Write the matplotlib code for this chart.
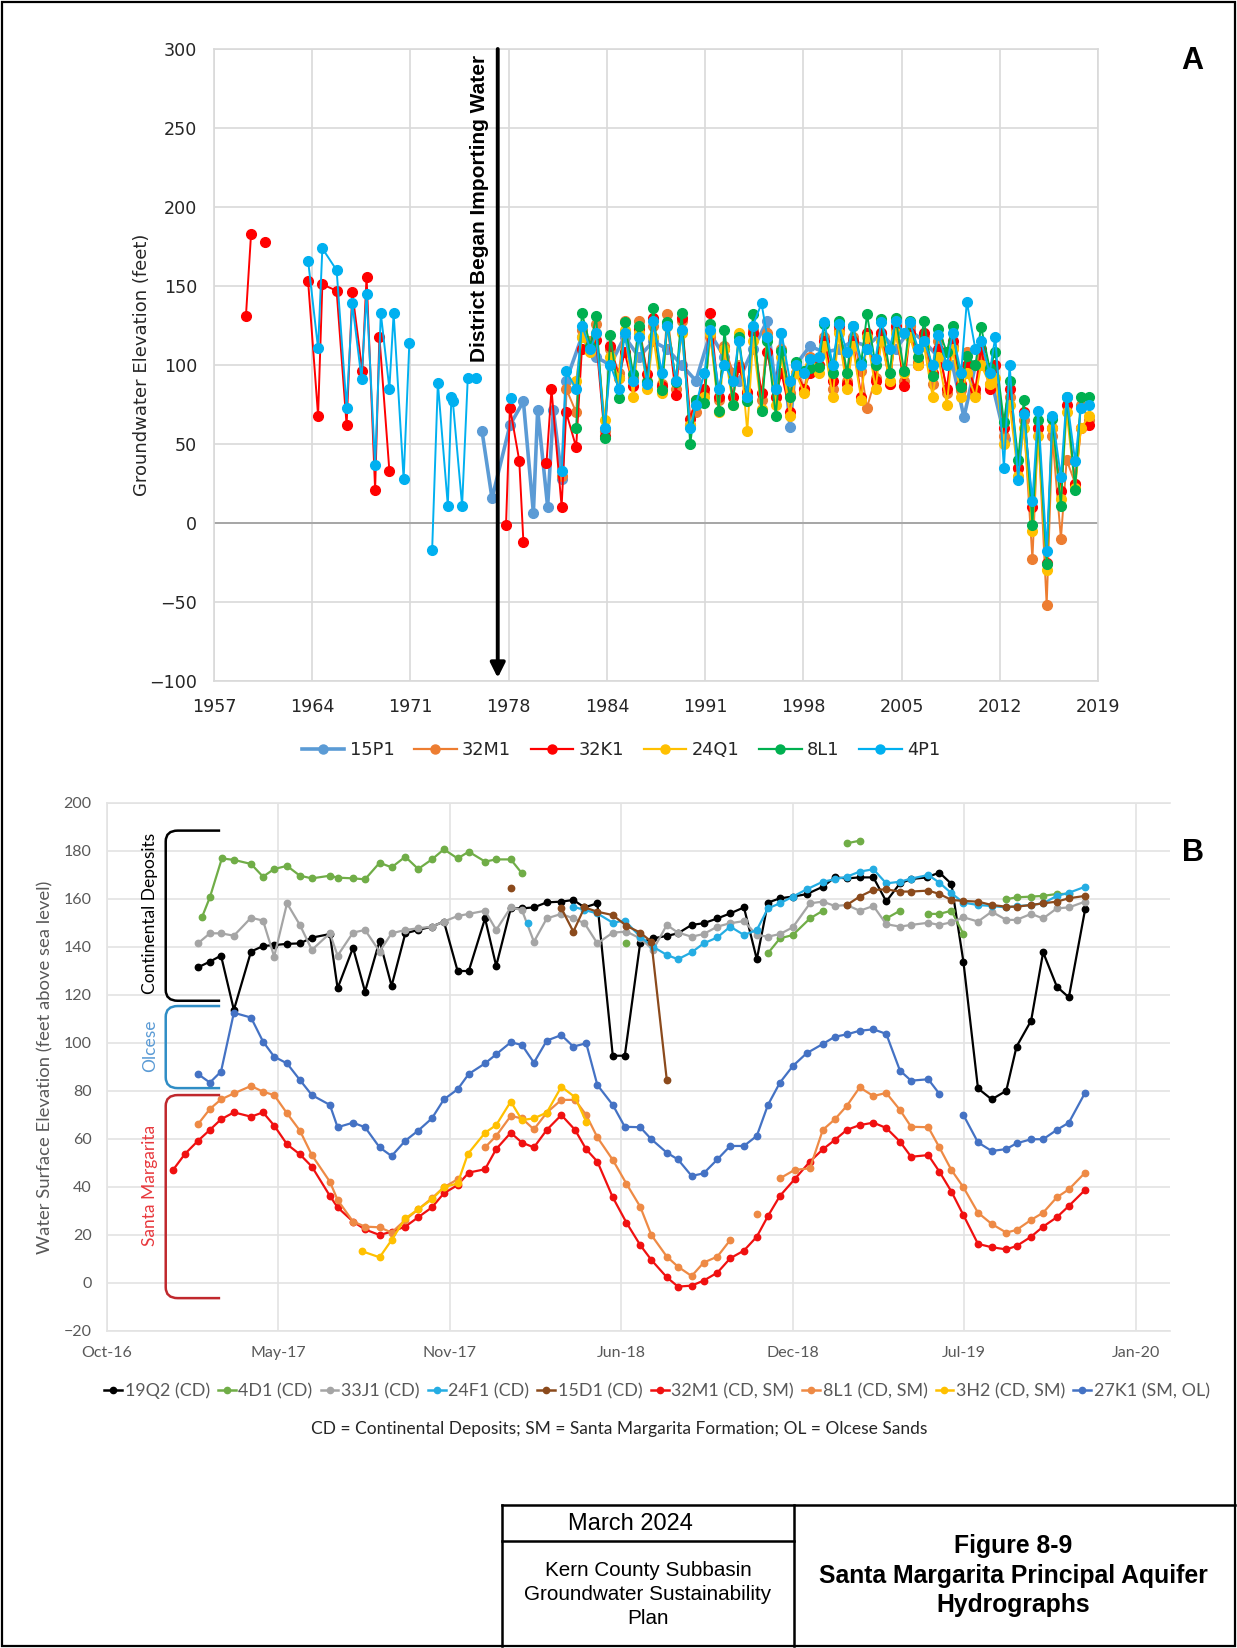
import numpy as np
import matplotlib
matplotlib.use('Agg')
import matplotlib.pyplot as plt
from matplotlib.lines import Line2D
from matplotlib.path import Path
from matplotlib.patches import PathPatch, Rectangle
import pandas as pd

nan = np.nan
CAL = 'Lato'
BLOCKFONT = 'Liberation Sans'

# ---------------- Panel A data (decimal years, feet) ----------------
A_XTICK_LABELS = ['1957', '1964', '1971', '1978', '1984', '1991', '1998', '2005', '2012', '2019']
A_YTICKS = [-100, -50, 0, 50, 100, 150, 200, 250, 300]
A_NAMES = ['15P1', '32M1', '32K1', '24Q1', '8L1', '4P1']
A_COLORS = ['#5B9BD5', '#ED7D31', '#FF0000', '#FFC000', '#00B050', '#00B0F0']
IMPORT_YEAR = 1976.9

semi_years = [1982.4, 1982.8, 1983.4, 1983.8, 1984.4, 1984.8, 1985.4, 1985.8, 1986.4, 1986.8,
              1987.4, 1987.8, 1988.4, 1988.8, 1989.4, 1989.8, 1990.4, 1990.8, 1991.4, 1991.8,
              1992.4, 1992.8, 1993.4, 1993.8, 1994.4, 1994.8, 1995.4, 1995.8, 1996.4, 1996.8,
              1997.4, 1997.8, 1998.4, 1998.8, 1999.4, 1999.8, 2000.4, 2000.8, 2001.4, 2001.8,
              2002.4, 2002.8, 2003.4, 2003.8, 2004.4, 2004.8, 2005.4, 2005.8, 2006.4, 2006.8,
              2007.4, 2007.8, 2008.4, 2008.8, 2009.4, 2009.8, 2010.4, 2010.8, 2011.4, 2011.8,
              2012.4, 2012.8, 2013.4, 2013.8, 2014.4, 2014.8, 2015.4, 2015.8, 2016.4, 2016.8,
              2017.4, 2017.8, 2018.4]

p15_years = [1975.8, 1976.5, 1977.76, 1978.7, 1979.4, 1979.7, 1980.4, 1980.8, 1981.4, 1981.7,
             1982.8, 1983.8, 1984.8, 1985.8, 1986.8, 1987.8, 1988.8, 1989.8, 1990.8, 1991.8,
             1992.8, 1993.8, 1994.8, 1995.8, 1996.4, 1996.8, 1997.4, 1997.8, 1998.8, 1999.8,
             2000.8, 2001.8, 2002.8, 2003.8, 2004.8, 2005.8, 2006.8, 2007.8, 2008.8, 2009.6,
             2010.4, 2011.4, 2012.5]
p15_vals = [58, 15.6, 62, 77, 6.5, 71.5, 10.3, 71.5, 28, 90,
            118, 105, 100, 118, 105, 115, 110, 100, 90, 120,
            105, 90, 110, 128, 85, 120, 61, 100, 112, 108,
            110, 115, 112, 120, 110, 122, 115, 105, 100, 67,
            100, 95, 53]

m32_years = [1981.4, 1981.7] + semi_years
m32_vals = [30, 85,
            70, 122, 115, 126, 58, 110, 95, 128, 92, 128,
            90, 125, 88, 132, 85, 128, 62, 70, 82, 118,
            78, 112, 95, 100, 82, 122, 78, 120, 80, 110,
            82, 100, 85, 105, 100, 118, 85, 122, 90, 118,
            96, 73, 92, 120, 88, 122, 90, 125, 102, 118,
            88, 115, 82, 112, 84, 108, 82, 105, 88, 100,
            55, 80, 35, 65, -23, 60, -52, 55, -10, 40,
            25, 75, 65]

k32_years = [1959.24, 1959.6, nan, 1960.6, nan, 1963.6, 1964.3, 1964.6, 1965.6, 1966.3, 1966.7,
             1967.4, 1967.7, 1968.3, 1968.6, 1969.3, nan, 1977.48, 1977.76, 1978.41, 1978.7, nan,
             1980.32, 1980.67, 1981.38, 1981.7] + semi_years
k32_vals = [131, 183, nan, 178, nan, 153, 68, 151, 147, 62, 146,
            96, 156, 21, 118, 33, nan, -1.3, 73, 39.5, -12, nan,
            38, 84.6, 10.3, 70,
            48, 110, 112, 116, 55, 112, 92, 108, 87, 123,
            94, 130, 87, 126, 81, 130, 66, 78, 85, 133,
            80, 110, 80, 99, 83, 120, 82, 108, 80, 95,
            70, 95, 85, 95, 100, 115, 90, 125, 88, 115,
            80, 120, 90, 120, 88, 125, 87, 120, 100, 120,
            95, 110, 85, 115, 88, 100, 85, 110, 85, 100,
            60, 85, 35, 70, 10, 60, -25, 60, 20, 75,
            25, 60, 62]

q24_years = semi_years
q24_vals = [90, 118, 108, 120, 65, 105, 92, 122, 80, 120,
            85, 118, 82, 125, 90, 120, 62, 75, 80, 120,
            70, 110, 75, 120, 58, 115, 72, 118, 75, 105,
            68, 95, 82, 100, 95, 112, 80, 120, 85, 112,
            78, 118, 85, 115, 90, 120, 95, 118, 100, 112,
            80, 105, 75, 110, 80, 95, 80, 100, 88, 92,
            50, 75, 30, 60, -5, 55, -30, 60, 15, 70,
            22, 60, 68]

l8_years = semi_years
l8_vals = [60, 133, 112, 131, 54, 119, 79, 127, 94, 125,
           89, 136, 84, 127, 89, 133, 50, 78, 76, 126,
           71, 122, 75, 118, 77, 132, 71, 115, 68, 109,
           80, 102, 96, 98, 99, 126, 95, 128, 95, 125,
           102, 132, 100, 129, 95, 130, 96, 128, 105, 128,
           93, 123, 108, 125, 86, 106, 100, 124, 98, 108,
           64, 90, 40, 78, -1, 65, -26, 66, 11, 80,
           21, 80, 80]

p4_years = [1963.6, 1964.3, 1964.6, 1965.6, 1966.3, 1966.7, 1967.35, 1967.7, 1968.3, 1968.7,
            1969.3, 1969.6, 1970.3, 1970.7, nan, 1972.3, 1972.7, 1973.4, 1973.65, 1973.75,
            1974.4, 1974.8, 1975.4, nan, 1977.8, nan, 1981.4, 1981.7] + semi_years
p4_vals = [166, 110.5, 173.8, 160, 73, 139, 91, 145, 36.7, 132.7,
           85, 132.7, 27.8, 113.7, nan, -17, 88.8, 11, 80, 77,
           11, 92, 92, nan, 79, nan, 33, 96,
           85, 125, 110, 120, 60, 100, 85, 120, 90, 118,
           88, 128, 95, 125, 90, 122, 60, 75, 95, 122,
           85, 100, 90, 115, 80, 125, 139, 118, 85, 120,
           90, 100, 95, 104, 105, 127, 100, 126, 108, 125,
           100, 110, 104, 127, 110, 128, 120, 127, 110, 115,
           100, 119, 100, 120, 95, 140, 110, 115, 95, 118,
           35, 100, 27, 69, 14, 71, -18, 68, 29, 80,
           39, 73, 75]

A_SERIES = [(p15_years, p15_vals), (m32_years, m32_vals), (k32_years, k32_vals),
            (q24_years, q24_vals), (l8_years, l8_vals), (p4_years, p4_vals)]

# ---------------- Panel B data (days after 2016-10-15, ft above sea level) ----------------
B_START = '2016-10-15'
B_TICK_DAYS = [0, 200, 400, 600, 800, 1000, 1200]
B_YTICKS = list(range(-20, 201, 20))
B_NAMES = ['19Q2 (CD)', '4D1 (CD)', '33J1 (CD)', '24F1 (CD)', '15D1 (CD)',
           '32M1 (CD, SM)', '8L1 (CD, SM)', '3H2 (CD, SM)', '27K1 (SM, OL)']
B_COLORS = ['#000000', '#70AD47', '#A5A5A5', '#25ADE3', '#8B4A1C',
            '#F01010', '#EE8A45', '#FFC000', '#4472C4']

q19_d = [106, 120, 133, 148, 168, 182, 195, 210, 225, 239, 260, 269, 287, 301, 318, 332, 348, 363, 379, 393,
         409, 422, 441, 454, 471, 484, 498, 513, 530, 544, 557, 572, 590, 604, 622, 637, 653, 666, 682, 696,
         712, 727, 743, 758, 771, 785, 800, 816, 835, 849, 863, 878, 894, 909, 925, 938, 956, 971, 985, 999,
         1016, 1032, 1049, 1061, 1078, 1092, 1108, 1122, 1141]
q19_v = [131.5, 133.9, 136.4, 113.8, 138.1, 140.4, 140.8, 141.3, 141.5, 143.9, 145.4, 122.8, 139.7, 121.4, 142.6, 123.8, 145.7, 147.1, 148.5, 150.6,
         130.0, 130.0, 151.9, 132.1, 156.1, 156.1, 156.5, 158.6, 158.9, 159.6, 156.5, 158.2, 94.7, 94.7, 141.8, 143.6, 144.6, 145.7, 149.2, 149.9,
         151.9, 154.0, 156.5, 134.9, 158.5, 160.3, 161.0, 162.0, 165.1, 169.0, 168.6, 169.0, 169.0, 159.0, 166.5, 168.3, 169.0, 171.0, 166.3, 133.9,
         81.1, 76.5, 80.1, 98.5, 109.3, 137.8, 123.5, 119.0, 155.7]

d4_d = [111, 120, 134, 148, 168, 182, 195, 210, 225, 239, 260, 269, 287, 301, 318, 332, 348, 363, 379, 393,
        409, 422, 441, 454, 471, 484, nan, 606, nan, 771, 785, 800, 820, 835, nan, 863, 878, nan, 909, 925,
        nan, 958, 971, 985, 999, nan, 1049, 1061, 1078, 1092, 1108, 1122]
d4_v = [152.6, 160.7, 176.9, 176.3, 174.6, 169.3, 172.5, 173.8, 169.7, 168.6, 169.7, 168.9, 168.6, 168.2, 175.1, 173.2, 177.6, 172.5, 176.5, 180.7,
        176.9, 179.7, 175.6, 176.5, 176.5, 170.7, nan, 141.8, nan, 137.4, 143.6, 145.0, 151.9, 155.1, nan, 183.2, 184.3, nan, 151.9, 155.1,
        nan, 153.8, 153.8, 155.1, 145.4, nan, 159.9, 160.7, 161.0, 161.3, 162.1, 162.1]

j33_d = [106, 120, 133, 148, 168, 182, 195, 210, 225, 239, 260, 269, 287, 301, 318, 332, 348, 363, 379, 393,
         409, 422, 441, 454, 471, 484, 498, 513, 530, 544, 557, 572, 590, 606, 622, 637, 653, 666, 682, 696,
         712, 727, 743, 758, 771, 785, 800, 820, 835, 849, 863, 878, 894, 909, 925, 938, 958, 971, 985, 999,
         1016, 1032, 1049, 1061, 1078, 1092, 1108, 1122, 1141]
j33_v = [141.5, 145.7, 145.7, 144.7, 152.2, 151.0, 136.0, 158.2, 149.2, 138.8, 145.7, 136.4, 146.0, 147.1, 138.1, 145.7, 147.1, 147.8, 148.5, 150.6,
         152.9, 153.8, 155.1, 147.1, 156.5, 155.4, 142.2, 151.9, 153.8, 151.9, 149.9, 141.5, 146.0, 146.4, 143.6, 138.8, 149.2, 146.0, 144.3, 145.4,
         148.5, 149.9, 150.8, 145.0, 144.3, 145.4, 148.2, 158.2, 158.9, 157.1, 157.5, 155.1, 157.1, 149.5, 148.5, 149.2, 150.1, 149.2, 150.3, 152.4,
         150.6, 154.7, 151.3, 151.3, 153.8, 151.9, 156.1, 156.5, 158.9]

f24_d = [491, nan, 544, 557, 572, 590, 604, 622, 637, 653, 666, 682, 696, 712, 727, 743, 758, 771, 785, 800,
         816, 835, 849, 863, 878, 894, 909, 925, 938, 958, 971, 985, 999, 1016, 1032, 1049, 1061, 1078, 1092, 1108,
         1122, 1141]
f24_v = [149.9, nan, 156.8, 155.4, 154.0, 150.1, 151.0, 144.3, 140.1, 136.7, 134.9, 137.8, 141.5, 144.0, 148.5, 145.0, 147.1, 156.1, 158.2, 161.0,
         164.0, 167.2, 168.2, 169.3, 171.4, 172.4, 166.5, 167.2, 168.5, 170.0, 166.8, 162.4, 158.5, 157.5, 157.1, 156.5, 157.0, 157.5, 158.2, 161.3,
         162.6, 165.1]

d15_d = [471, nan, 530, 544, 557, 572, 590, 606, 622, 635, 653, nan, 863, 878, 894, 909, 925, 938, 958, 971,
         985, 999, 1016, 1032, 1049, 1061, 1078, 1092, 1108, 1122, 1141]
d15_v = [164.4, nan, 156.1, 146.4, 156.5, 154.7, 153.3, 148.8, 146.0, 142.2, 84.6, nan, 157.5, 161.0, 163.8, 164.0, 163.1, 163.1, 163.5, 162.1,
         159.6, 159.2, 158.9, 157.5, 156.8, 156.8, 157.5, 158.2, 158.9, 160.3, 161.3]

m32b_d = [77, 91, 106, 120, 133, 148, 168, 182, 195, 210, 225, 239, 260, 269, 287, 301, 318, 332, 348, 363,
          379, 393, 409, 422, 441, 454, 471, 484, 498, 513, 530, 546, 559, 572, 590, 606, 622, 635, 653, 666,
          682, 696, 712, 727, 743, 758, 771, 785, 802, 820, 835, 849, 863, 878, 894, 909, 925, 938, 958, 971,
          985, 999, 1016, 1032, 1049, 1061, 1078, 1092, 1108, 1122, 1141]
m32b_v = [47.1, 53.8, 59.2, 63.8, 68.2, 71.1, 69.3, 71.1, 65.6, 57.8, 53.6, 48.5, 36.3, 31.5, 25.6, 22.3, 20.0, 21.4, 23.5, 27.4,
          31.5, 37.4, 40.8, 46.0, 47.4, 55.8, 62.6, 58.5, 56.5, 63.8, 70.0, 63.8, 55.7, 50.6, 35.7, 25.1, 15.8, 9.6, 2.4, -1.5,
          -1.1, 1.0, 4.3, 10.3, 13.5, 19.3, 27.9, 36.3, 43.2, 50.6, 55.7, 59.6, 63.8, 65.8, 66.8, 64.6, 58.9, 52.6, 53.3, 46.4,
          38.1, 28.3, 16.3, 14.9, 14.0, 15.4, 19.3, 23.5, 27.4, 32.1, 38.8]

l8b_d = [106, 120, 133, 148, 168, 182, 195, 210, 225, 239, 260, 269, 287, 301, 318, 332, 348, 363, 379, 393,
         409, nan, 441, 454, 471, 484, 498, 513, 530, 546, 559, 572, 590, 606, 622, 635, 653, 666, 682, 696,
         712, 727, nan, 758, nan, 785, 802, 820, 835, 849, 863, 878, 894, 909, 925, 938, 958, 971, 985, 999,
         1016, 1032, 1049, 1061, 1078, 1092, 1108, 1122, 1141]
l8b_v = [66.1, 72.5, 76.5, 79.0, 82.1, 79.7, 78.3, 70.7, 63.5, 53.3, 42.2, 34.6, 25.6, 23.5, 23.2, 21.0, 26.3, 30.7, 35.3, 39.9,
         43.2, nan, 56.5, 61.3, 69.6, 68.6, 64.0, 71.0, 76.3, 76.3, 70.0, 60.7, 51.3, 41.3, 31.8, 20.0, 11.0, 6.8, 2.9, 8.5,
         11.0, 17.9, nan, 28.8, nan, 43.6, 47.1, 47.8, 63.8, 68.2, 73.8, 81.5, 77.9, 79.2, 72.1, 65.1, 64.9, 56.5, 47.1, 39.9,
         29.3, 24.6, 21.0, 22.1, 26.3, 29.3, 35.7, 39.0, 46.0]

h3_d = [297, 318, 332, 348, 363, 379, 393, 409, 421, 441, 454, 471, 484, 498, 513, 530, 546, 559]
h3_v = [13.3, 10.7, 17.9, 26.9, 30.7, 34.9, 39.9, 41.5, 53.8, 62.6, 65.8, 75.6, 67.9, 68.6, 71.0, 81.8, 77.4, 67.2]

k27_d = [106, 120, 133, 148, 168, 182, 195, 210, 225, 239, 260, 269, 287, 301, 318, 332, 348, 363, 379, 393,
         409, 422, 441, 454, 471, 484, 498, 513, 530, 544, 559, 572, 590, 604, 622, 635, 653, 666, 682, 696,
         712, 727, 743, 758, 771, 785, 800, 816, 835, 849, 863, 878, 894, 909, 925, 938, 958, 971, nan, 999,
         1016, 1032, 1049, 1061, 1078, 1092, 1108, 1122, 1141]
k27_v = [87.1, 83.5, 88.1, 112.6, 110.6, 100.6, 94.3, 91.5, 84.6, 78.3, 74.2, 64.9, 66.8, 64.9, 56.5, 52.9, 59.3, 63.5, 68.6, 76.5,
         80.7, 87.1, 91.5, 95.3, 100.3, 99.2, 91.8, 101.0, 103.3, 98.5, 99.9, 82.5, 74.2, 65.1, 64.9, 59.9, 54.3, 51.5, 44.6, 45.7,
         51.5, 57.1, 57.1, 61.3, 74.2, 83.5, 90.4, 95.7, 99.6, 102.6, 103.6, 105.1, 105.7, 103.8, 88.5, 84.3, 84.9, 78.8, nan, 70.0,
         58.6, 55.0, 55.8, 58.2, 59.9, 59.9, 63.8, 66.8, 79.3]

B_SERIES = [(q19_d, q19_v), (d4_d, d4_v), (j33_d, j33_v), (f24_d, f24_v), (d15_d, d15_v),
            (m32b_d, m32b_v), (l8b_d, l8b_v), (h3_d, h3_v), (k27_d, k27_v)]

TITLE_LEFT = ['Kern County Subbasin', 'Groundwater Sustainability', 'Plan']
TITLE_RIGHT = ['Figure 8-9', 'Santa Margarita Principal Aquifer', 'Hydrographs']
DATE_TEXT = 'March 2024'

# ---------------- figure ----------------
W, H = 1237, 1648
fig = plt.figure(figsize=(W / 100, H / 100), dpi=100)
fig.patch.set_facecolor('white')


def fx(px):
    return px / W


def fy(py):
    return 1 - py / H


GRID = '#D9D9D9'

# ---------- Panel A ----------
axA = fig.add_axes([fx(214), fy(681), fx(1098) - fx(214), fy(49) - fy(681)])
axA.set_xlim(1957, 2019)
axA.set_ylim(-100, 300)
axA.set_xticks(np.linspace(1957, 2019, len(A_XTICK_LABELS)))
axA.set_xticklabels(A_XTICK_LABELS)
axA.set_yticks(A_YTICKS)
axA.grid(True, color=GRID, lw=1.2)
axA.set_axisbelow(True)
for s in axA.spines.values():
    s.set_color(GRID)
    s.set_linewidth(1.2)
axA.axhline(0, color='#A6A6A6', lw=1.4, zorder=1.5)
axA.tick_params(length=0, labelsize=12.6, labelcolor='#262626', pad=12)
axA.set_ylabel('Groundwater Elevation (feet)', fontsize=13, color='#262626')
axA.yaxis.set_label_coords((151 - 214) / 884, 0.5)

for (xs, ys), name, col in zip(A_SERIES, A_NAMES, A_COLORS):
    lw = 2.6 if name == '15P1' else 1.4
    axA.plot(np.array(xs, float), np.array(ys, float), '-', color=col, lw=lw,
             marker='o', ms=7, mec=col, mfc=col, zorder=3)

axA.annotate('', xy=(IMPORT_YEAR, -98), xytext=(IMPORT_YEAR, 300),
             arrowprops=dict(arrowstyle='-|>', lw=2.8, color='black', mutation_scale=22,
                             shrinkA=0, shrinkB=0), annotation_clip=False, zorder=5)
axA.annotate('District Began Importing Water', xy=(IMPORT_YEAR, 296), xytext=(-6, 0),
             textcoords='offset points', rotation=90, ha='right', va='top',
             fontsize=15, fontweight='bold', family='Liberation Sans', color='black', zorder=6)

handlesA = [Line2D([0], [0], color=c, lw=(2.6 if n == '15P1' else 1.6), marker='o', ms=6.5, mec=c, mfc=c)
            for n, c in zip(A_NAMES, A_COLORS)]
fig.legend(handlesA, A_NAMES, loc='center', bbox_to_anchor=(fx(621), fy(750)), ncol=6,
           frameon=False, fontsize=12.8, handlelength=2.4, handletextpad=0.3, columnspacing=1.1,
           labelcolor='#262626')
fig.text(fx(1192), fy(61), 'A', fontsize=22, fontweight='bold', family='Liberation Sans',
         ha='center', va='center')

# ---------- Panel B ----------
axB = fig.add_axes([fx(107), fy(1331), fx(1170) - fx(107), fy(803) - fy(1331)])
axB.set_xlim(0, 1240)
axB.set_ylim(-20, 200)
start = pd.Timestamp(B_START)
axB.set_xticks(B_TICK_DAYS)
axB.set_xticklabels([(start + pd.Timedelta(days=d)).strftime('%b-%y') for d in B_TICK_DAYS])
axB.set_yticks(B_YTICKS)
axB.grid(True, color='#E3E3E3', lw=1.2)
axB.set_axisbelow(True)
for k, s in axB.spines.items():
    s.set_color('#E3E3E3')
    s.set_linewidth(1.2)
axB.spines['right'].set_visible(False)
axB.tick_params(length=0, labelsize=11.5, labelcolor='#595959', pad=11)
for lab in axB.get_xticklabels() + axB.get_yticklabels():
    lab.set_family(CAL)
axB.set_ylabel('Water Surface Elevation (feet above sea level)', fontsize=13.3, color='#595959', family=CAL)
axB.yaxis.set_label_coords((53 - 107) / 1063, 0.5)

for (xs, ys), name, col in zip(B_SERIES, B_NAMES, B_COLORS):
    axB.plot(np.array(xs, float), np.array(ys, float), '-', color=col, lw=1.6,
             marker='o', ms=4.6, mec=col, mfc=col, zorder=3)


def bracket(ax, xv, xe, ytop, ybot, color, rx=14, ry=4.5):
    verts = [(xe, ytop), (xv + rx, ytop), (xv, ytop), (xv, ytop - ry),
             (xv, ybot + ry), (xv, ybot), (xv + rx, ybot), (xe, ybot)]
    codes = [Path.MOVETO, Path.LINETO, Path.CURVE3, Path.CURVE3,
             Path.LINETO, Path.CURVE3, Path.CURVE3, Path.LINETO]
    ax.add_patch(PathPatch(Path(verts, codes), fill=False, ec=color, lw=1.8, clip_on=False, zorder=4))


bracket(axB, 68.5, 132, 188.5, 117.6, '#000000')
bracket(axB, 68.5, 132, 115.4, 81.2, '#2F8DC5')
bracket(axB, 68.5, 132, 78.3, -6.3, '#C0282D')
axB.text(50, 154, 'Continental Deposits', rotation=90, ha='center', va='center', fontsize=12.5,
         family=CAL, color='#000000')
axB.text(50, 98.7, 'Olcese', rotation=90, ha='center', va='center', fontsize=12.5,
         family=CAL, color='#5B9BD5')
axB.text(50, 40.8, 'Santa Margarita', rotation=90, ha='center', va='center', fontsize=12.5,
         family=CAL, color='#E8383D')

handlesB = [Line2D([0], [0], color=c, lw=1.8, marker='o', ms=4.5, mec=c, mfc=c) for c in B_COLORS]
fig.legend(handlesB, B_NAMES, loc='center', bbox_to_anchor=(fx(657), fy(1391)), ncol=9,
           frameon=False, prop={'family': CAL, 'size': 12.9}, handlelength=1.0, handletextpad=0.15,
           columnspacing=0.45, labelcolor='#595959')
fig.text(fx(619), fy(1429), 'CD = Continental Deposits; SM = Santa Margarita Formation; OL = Olcese Sands',
         ha='center', va='center', fontsize=12.5, family=CAL, color='#262626')
fig.text(fx(1193), fy(853), 'B', fontsize=22, fontweight='bold', family='Liberation Sans',
         ha='center', va='center')

# ---------- frame and title block ----------
fig.patches.append(Rectangle((fx(2), fy(1646)), fx(1235) - fx(2), fy(2) - fy(1646), transform=fig.transFigure,
                             fill=False, ec='black', lw=1.6))
for (x0, y0, x1, y1) in [(502, 1505, 1235, 1505), (502, 1505, 502, 1646), (794, 1505, 794, 1646),
                         (502, 1541, 794, 1541)]:
    fig.add_artist(Line2D([fx(x0), fx(x1)], [fy(y0), fy(y1)], color='black', lw=1.8,
                          transform=fig.transFigure))

renderer = fig.canvas.get_renderer()


def fitted_lines(lines, xc, ys, target_px, weight='normal'):
    """Place lines centred at xc; size chosen so the widest line spans target_px."""
    texts = [fig.text(fx(xc), fy(y), s, ha='center', va='center', fontsize=14,
                      family=BLOCKFONT, fontweight=weight) for s, y in zip(lines, ys)]
    widest = max(t.get_window_extent(renderer).width for t in texts)
    size = 14 * target_px / widest
    for t in texts:
        t.set_fontsize(size)
    return texts


fitted_lines([DATE_TEXT], 630, [1524], 126)
fitted_lines(TITLE_LEFT, 648, [1570, 1594, 1618], 248)
fitted_lines(TITLE_RIGHT, 1013, [1546, 1576, 1605], 392, weight='bold')

fig.savefig('out.png', dpi=100, facecolor='white')
